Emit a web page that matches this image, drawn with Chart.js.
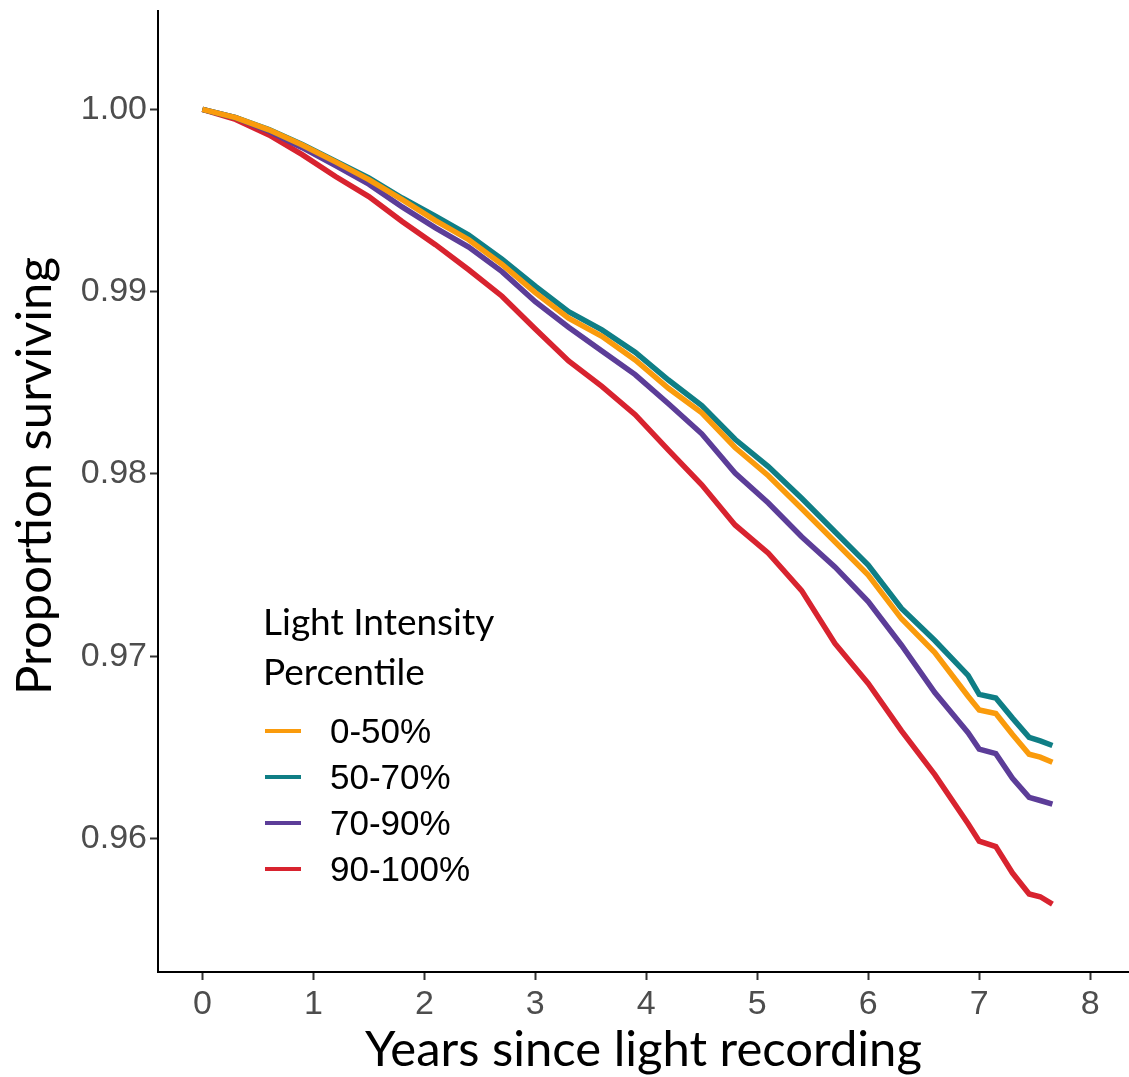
<!DOCTYPE html>
<html>
<head>
<meta charset="utf-8">
<script src="https://cdn.jsdelivr.net/npm/chart.js@4.4.1/dist/chart.umd.min.js"></script>
<style>
  body { margin: 0; background: #fff; }
  #wrap { width: 1129px; height: 1077px; position: relative; }
</style>
</head>
<body>
<div id="wrap"><canvas id="survivalChart"></canvas></div>
<script>
// years since light recording (x positions)
const years = [0, 0.3, 0.6, 0.9, 1.2, 1.5, 1.8, 2.1, 2.4, 2.7, 3.0, 3.3, 3.6, 3.9, 4.2, 4.5,
  4.8, 5.1, 5.4, 5.7, 6.0, 6.3, 6.6, 6.9, 7.0, 7.15, 7.3, 7.45, 7.55, 7.66];

const seriesLabels = ['0-50%', '50-70%', '70-90%', '90-100%'];

const pct0to50 = [1.0, 0.99955, 0.99888, 0.99805, 0.99712, 0.99615, 0.99505, 0.99390, 0.99285, 0.99150,
  0.98995, 0.98855, 0.98755, 0.98625, 0.98470, 0.98335, 0.98145, 0.97990, 0.97810, 0.97628,
  0.97445, 0.97205, 0.97020, 0.96780, 0.96705, 0.96685, 0.96570, 0.96462, 0.96446, 0.96418];
const pct50to70 = [1.0, 0.99955, 0.99890, 0.99808, 0.99716, 0.99624, 0.99514, 0.99414, 0.99310, 0.99178,
  0.99030, 0.98890, 0.98790, 0.98668, 0.98515, 0.98375, 0.98190, 0.98040, 0.97866, 0.97683,
  0.97500, 0.97262, 0.97086, 0.96895, 0.96790, 0.96770, 0.96660, 0.96555, 0.96535, 0.96510];
const pct70to90 = [1.0, 0.99955, 0.99880, 0.99790, 0.99692, 0.99590, 0.99465, 0.99350, 0.99245, 0.99110,
  0.98945, 0.98805, 0.98675, 0.98545, 0.98385, 0.98220, 0.98005, 0.97840, 0.97655, 0.97490,
  0.97300, 0.97060, 0.96800, 0.96580, 0.96490, 0.96465, 0.96330, 0.96225, 0.96208, 0.96188];
const pct90to100 = [1.0, 0.99945, 0.99860, 0.99752, 0.99632, 0.99522, 0.99385, 0.99258, 0.99120, 0.98975,
  0.98795, 0.98620, 0.98480, 0.98325, 0.98130, 0.97940, 0.97720, 0.97565, 0.97360, 0.97070,
  0.96850, 0.96590, 0.96350, 0.96080, 0.95985, 0.95955, 0.95810, 0.95695, 0.95680, 0.95640];

const xTicks = [0, 1, 2, 3, 4, 5, 6, 7, 8];
const yTicks = [0.96, 0.97, 0.98, 0.99, 1.00];

const colors = ['#FA9B0C', '#0F7E85', '#5C3D98', '#D8232F'];
const allSeries = [pct0to50, pct50to70, pct70to90, pct90to100];

const toPoints = vals => years.map((t, i) => ({ x: t, y: vals[i] }));

// y title + legend drawn by hand so they sit where ggplot put them
const extras = {
  id: 'extras',
  afterDraw(chart) {
    const ctx = chart.ctx;
    ctx.save();
    ctx.fillStyle = '#000';

    ctx.save();
    ctx.translate(35, 476);
    ctx.rotate(-Math.PI / 2);
    ctx.font = '49px Lato';
    ctx.textAlign = 'center';
    ctx.textBaseline = 'middle';
    ctx.fillText('Proportion surviving', 0, 0);
    ctx.restore();

    const x0 = 263;
    ctx.textBaseline = 'alphabetic';
    ctx.font = '37px Lato';
    ctx.fillText('Light Intensity', x0, 635);
    ctx.fillText('Percentile', x0, 685);
    ctx.font = '35px "Liberation Sans"';
    ctx.textBaseline = 'middle';
    chart.data.datasets.forEach((ds, i) => {
      const y = 731 + i * 46;
      ctx.strokeStyle = ds.borderColor;
      ctx.lineWidth = 4;
      ctx.beginPath();
      ctx.moveTo(x0 + 2, y);
      ctx.lineTo(x0 + 38, y);
      ctx.stroke();
      ctx.fillText(ds.label, x0 + 67, y + 2);
    });
    ctx.restore();
  }
};

new Chart(document.getElementById('survivalChart').getContext('2d'), {
  type: 'line',
  data: {
    datasets: seriesLabels.map((lab, i) => ({
      label: lab,
      data: toPoints(allSeries[i]),
      borderColor: colors[i],
      backgroundColor: colors[i],
      borderWidth: 5.5,
      pointRadius: 0,
      tension: 0
    }))
  },
  options: {
    responsive: true,
    maintainAspectRatio: false,
    animation: false,
    layout: { padding: { top: 11, right: 0, left: 0, bottom: 0 } },
    plugins: {
      legend: { display: false },
      tooltip: { enabled: false }
    },
    scales: {
      x: {
        type: 'linear',
        min: -0.4,
        max: 8.35,
        afterBuildTicks: s => { s.ticks = xTicks.map(v => ({ value: v })); },
        afterFit: s => { s.height = 105; s.paddingLeft = 0; s.paddingRight = 0; },
        grid: { drawOnChartArea: false, drawTicks: true, tickLength: 8, tickColor: '#333', tickWidth: 2 },
        border: { display: true, color: '#000', width: 2 },
        ticks: {
          font: { family: 'Liberation Sans', size: 34 },
          color: '#4D4D4D',
          padding: 4,
          maxRotation: 0,
          callback: v => String(v)
        },
        title: {
          display: true,
          text: 'Years since light recording',
          font: { family: 'Lato', size: 49, lineHeight: 1.1 },
          color: '#000',
          padding: { top: 0, bottom: 0 }
        }
      },
      y: {
        min: 0.95267,
        max: 1.0054,
        afterBuildTicks: s => { s.ticks = yTicks.map(v => ({ value: v })); },
        afterFit: s => { s.width = 158; s.paddingTop = 0; s.paddingBottom = 0; },
        grid: { drawOnChartArea: false, drawTicks: true, tickLength: 8, tickColor: '#333', tickWidth: 2 },
        border: { display: true, color: '#000', width: 2 },
        ticks: {
          font: { family: 'Liberation Sans', size: 34 },
          color: '#4D4D4D',
          padding: 3,
          callback: v => v.toFixed(2)
        }
      }
    }
  },
  plugins: [extras]
});
</script>
</body>
</html>
